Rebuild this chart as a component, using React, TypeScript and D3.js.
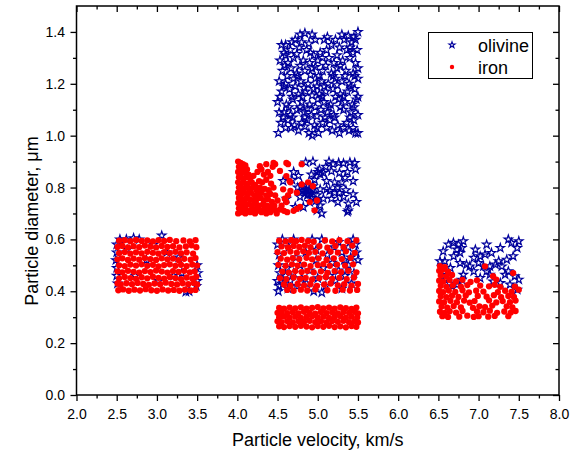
import { useEffect, useRef } from "react";
import * as d3 from "d3";

type Pt = [number, number];

// olivine (blue stars)
const olivineTop: Pt[] = [
  [4.78,1.39],[4.84,1.395],[4.93,1.39],[5.12,1.38],[5.3,1.39],[5.38,1.385],[5.45,1.38],[5.5,1.4],
  [4.55,1.35],[4.6,1.35],[4.72,1.37],[4.8,1.36],[4.97,1.37],[5.08,1.37],[5.22,1.37],[5.33,1.37],[5.42,1.36],[5.47,1.37],
  [4.58,1.32],[4.66,1.33],[4.77,1.34],[4.86,1.33],[4.95,1.31],[5.03,1.32],[5.11,1.33],[5.27,1.34],[5.36,1.33],[5.49,1.33],
  [4.53,1.29],[4.63,1.28],[4.7,1.3],[4.82,1.29],[4.9,1.28],[5.0,1.29],[5.14,1.3],[5.2,1.28],[5.31,1.29],[5.4,1.3],[5.47,1.28],
  [4.56,1.25],[4.67,1.26],[4.74,1.24],[4.84,1.25],[4.93,1.26],[5.06,1.25],[5.17,1.24],[5.24,1.26],[5.35,1.25],[5.44,1.24],
  [4.52,1.21],[4.6,1.2],[4.7,1.22],[4.79,1.21],[4.88,1.2],[4.97,1.22],[5.05,1.21],[5.13,1.2],[5.22,1.22],[5.3,1.21],[5.39,1.2],[5.5,1.22],
  [4.55,1.17],[4.65,1.18],[4.76,1.16],[4.85,1.17],[4.95,1.18],[5.02,1.16],[5.1,1.17],[5.19,1.18],[5.28,1.16],[5.37,1.17],[5.46,1.18],
  [4.5,1.13],[4.61,1.12],[4.69,1.14],[4.8,1.13],[4.9,1.12],[5.0,1.14],[5.08,1.13],[5.16,1.12],[5.26,1.14],[5.34,1.13],[5.43,1.12],[5.48,1.14],
  [4.52,1.09],[4.58,1.09],[4.66,1.08],[4.74,1.1],[4.83,1.09],[4.92,1.08],[5.04,1.1],[5.12,1.09],[5.2,1.08],[5.32,1.1],[5.41,1.09],[5.5,1.08],
  [4.54,1.05],[4.63,1.06],[4.71,1.04],[4.8,1.05],[4.87,1.06],[4.96,1.04],[5.06,1.05],[5.15,1.06],[5.25,1.04],[5.36,1.05],[5.45,1.06],
  [4.51,1.01],[4.6,1.03],[4.76,1.02],[4.89,1.01],[4.93,1.0],[5.01,1.01],[5.18,1.02],[5.27,1.01],[5.39,1.02],[5.47,1.01],[5.5,1.01],
  [4.68,1.36],[4.89,1.355],[5.17,1.35],[5.4,1.34],
  [4.6,1.31],[4.74,1.315],[4.91,1.32],[5.06,1.3],[5.24,1.31],[5.44,1.32],
  [4.59,1.27],[4.78,1.27],[4.97,1.265],[5.1,1.27],[5.28,1.27],[5.5,1.26],
  [4.62,1.23],[4.75,1.23],[4.91,1.235],[5.01,1.23],[5.19,1.23],[5.34,1.23],[5.46,1.23],
  [4.58,1.19],[4.72,1.19],[4.83,1.185],[4.99,1.19],[5.08,1.19],[5.24,1.195],[5.41,1.19],
  [4.53,1.15],[4.68,1.15],[4.81,1.15],[4.93,1.155],[5.05,1.15],[5.22,1.15],[5.32,1.15],[5.5,1.15],
  [4.64,1.11],[4.78,1.11],[4.87,1.105],[4.97,1.11],[5.14,1.11],[5.28,1.11],[5.45,1.11],
  [4.57,1.07],[4.69,1.07],[4.84,1.07],[4.99,1.075],[5.09,1.07],[5.21,1.07],[5.4,1.07],
  [4.67,1.03],[4.84,1.035],[4.99,1.03],[5.11,1.03],[5.32,1.03],[5.44,1.03],
];

const olivineMid: Pt[] = [
  [4.85,0.897],[4.94,0.9],[5.14,0.9],[5.19,0.89],[5.26,0.895],[5.32,0.893],[5.4,0.897],[5.46,0.895],
  [5.02,0.87],[5.03,0.851],[5.07,0.857],[5.17,0.863],[5.27,0.857],[5.34,0.838],[5.11,0.825],[5.21,0.82],
  [5.44,0.825],[5.25,0.8],[5.15,0.787],[4.87,0.805],[4.82,0.787],[4.88,0.774],[4.94,0.793],[4.99,0.77],
  [5.07,0.757],[5.17,0.757],[5.27,0.78],[5.32,0.764],[5.44,0.774],[5.48,0.744],[5.38,0.738],[5.25,0.744],
  [5.03,0.731],[4.99,0.712],[5.38,0.712],[4.61,0.757],[4.57,0.825],[4.76,0.845],[4.72,0.725],[4.82,0.725],
  [4.94,0.805],[5.11,0.793],[5.03,0.793],[5.21,0.78],[4.78,0.764],[4.9,0.744],
  [4.84,0.78],[4.86,0.79],[4.89,0.785],[4.87,0.77],[4.91,0.775],[4.83,0.795],[4.93,0.76],[4.8,0.81],
  [4.96,0.83],[4.92,0.85],[4.7,0.86],[4.68,0.83],[4.75,0.8],[5.0,0.86],[5.3,0.82],[5.37,0.86],
  [5.47,0.87],[5.1,0.88],[4.98,0.75],[5.05,0.7],[5.35,0.79],[5.37,0.706],
];

const olivineBlockA: Pt[] = [
  [2.5,0.58],[2.5,0.55],[2.49,0.52],[2.5,0.49],[2.5,0.46],[2.51,0.43],[2.54,0.6],[2.62,0.6],
  [2.71,0.605],[2.78,0.6],[3.06,0.615],[3.5,0.5],[3.51,0.47],[3.5,0.44],[3.49,0.42],[3.36,0.398],
  [3.4,0.4],[2.63,0.56],[2.87,0.52],[3.02,0.44],[3.21,0.46],[3.31,0.47],[2.73,0.46],[3.12,0.55],
  [2.96,0.58],[3.27,0.53],
];

const olivineBlockB: Pt[] = [
  [4.5,0.58],[4.52,0.54],[4.51,0.5],[4.53,0.47],[4.5,0.44],[4.52,0.42],[4.51,0.4],[4.57,0.43],
  [4.6,0.46],[4.63,0.41],[4.66,0.44],[4.62,0.49],[4.7,0.47],[4.74,0.42],[4.8,0.45],[4.78,0.5],
  [4.86,0.43],[4.9,0.48],[4.95,0.4],[5.05,0.395],[5.0,0.45],[5.07,0.49],[5.1,0.42],[5.15,0.46],
  [5.18,0.51],[5.22,0.44],[5.26,0.48],[5.3,0.41],[5.34,0.46],[5.38,0.5],[5.42,0.43],[5.45,0.47],
  [5.5,0.52],[5.48,0.55],[5.47,0.58],[5.44,0.6],[5.38,0.57],[5.3,0.55],[5.26,0.59],[5.2,0.57],
  [5.12,0.54],[5.05,0.6],[4.98,0.56],[4.93,0.6],[4.85,0.55],[4.7,0.6],[4.64,0.57],[4.56,0.6],
  [5.33,0.52],[5.41,0.53],[4.98,0.52],[4.73,0.53],
];

const olivineRight: Pt[] = [
  [6.625,0.58],[6.687,0.587],[6.75,0.58],[6.81,0.593],[6.79,0.567],[6.73,0.561],[6.77,0.548],[6.69,0.535],
  [6.56,0.554],[6.58,0.516],[6.52,0.516],[6.96,0.561],[7.1,0.58],[7.27,0.567],[7.37,0.6],[7.41,0.587],
  [7.5,0.593],[7.48,0.567],[7.43,0.535],[7.35,0.522],[7.25,0.516],[7.16,0.548],[7.08,0.542],[7.02,0.535],
  [6.94,0.529],[7.0,0.509],[7.06,0.496],[7.14,0.496],[7.21,0.503],[7.29,0.496],[7.37,0.477],[6.89,0.496],
  [6.85,0.503],[6.77,0.509],[6.65,0.49],[6.6,0.464],[6.81,0.464],[6.94,0.477],[7.1,0.477],[7.33,0.464],
  [7.45,0.458],[7.5,0.445],[7.27,0.432],[7.18,0.438],[7.39,0.426],[7.48,0.406],[6.67,0.419],[6.73,0.426],
  [6.58,0.445],[6.79,0.445],[7.02,0.451],[7.14,0.464],
];

// iron (red dots)
const ironBlockA: Pt[] = [
  [2.52,0.404],[2.58,0.407],[2.65,0.402],[2.72,0.406],[2.79,0.403],[2.86,0.408],[2.93,0.404],[3.0,0.402],[3.07,0.407],[3.14,0.403],[3.21,0.405],[3.28,0.402],[3.35,0.406],[3.42,0.403],[3.48,0.405],
  [2.51,0.43],[2.55,0.426],[2.62,0.431],[2.69,0.427],[2.76,0.432],[2.83,0.428],[2.9,0.425],[2.97,0.43],[3.04,0.427],[3.11,0.433],[3.18,0.428],[3.25,0.426],[3.32,0.431],[3.39,0.427],[3.46,0.432],[3.5,0.426],
  [2.53,0.45],[2.6,0.455],[2.67,0.451],[2.74,0.448],[2.81,0.454],[2.88,0.45],[2.95,0.456],[3.02,0.452],[3.09,0.449],[3.16,0.455],[3.23,0.451],[3.3,0.447],[3.37,0.453],[3.44,0.449],[3.49,0.456],
  [2.51,0.477],[2.57,0.473],[2.64,0.479],[2.71,0.475],[2.78,0.472],[2.85,0.478],[2.92,0.474],[2.99,0.48],[3.06,0.476],[3.13,0.472],[3.2,0.478],[3.27,0.475],[3.34,0.479],[3.41,0.473],[3.47,0.477],
  [2.53,0.5],[2.6,0.497],[2.67,0.503],[2.74,0.499],[2.81,0.504],[2.88,0.498],[2.95,0.502],[3.02,0.496],[3.09,0.501],[3.16,0.504],[3.23,0.498],[3.3,0.502],[3.37,0.497],[3.44,0.503],[3.5,0.499],
  [2.51,0.523],[2.57,0.527],[2.64,0.521],[2.71,0.526],[2.78,0.522],[2.85,0.528],[2.92,0.524],[2.99,0.521],[3.06,0.527],[3.13,0.523],[3.2,0.526],[3.27,0.52],[3.34,0.525],[3.42,0.522],[3.48,0.528],
  [2.53,0.547],[2.6,0.551],[2.67,0.545],[2.74,0.55],[2.81,0.546],[2.88,0.552],[2.95,0.548],[3.02,0.545],[3.09,0.551],[3.16,0.547],[3.23,0.552],[3.3,0.546],[3.37,0.55],[3.45,0.545],
  [2.51,0.571],[2.57,0.575],[2.64,0.569],[2.71,0.574],[2.78,0.57],[2.85,0.576],[2.92,0.572],[2.99,0.569],[3.06,0.575],[3.13,0.571],[3.2,0.574],[3.28,0.569],[3.36,0.573],[3.43,0.577],[3.49,0.57],
  [2.53,0.595],[2.6,0.597],[2.67,0.593],[2.74,0.598],[2.81,0.594],[2.88,0.596],[2.95,0.592],[3.02,0.597],[3.09,0.594],[3.16,0.598],[3.24,0.593],[3.33,0.596],[3.41,0.592],[3.48,0.597],
];

const ironMid: Pt[] = [
  [4.01,0.9],[4.04,0.895],[4.07,0.89],[4.02,0.88],[4.06,0.875],[4.1,0.885],[4.12,0.87],[4.01,0.86],[4.05,0.855],[4.09,0.86],[4.14,0.85],
  [4.02,0.84],[4.07,0.835],[4.11,0.84],[4.16,0.835],[4.2,0.845],[4.25,0.86],[4.3,0.87],[4.33,0.85],[4.38,0.86],[4.41,0.845],[4.44,0.88],
  [4.01,0.82],[4.04,0.815],[4.08,0.82],[4.13,0.815],[4.18,0.82],[4.22,0.81],[4.27,0.825],[4.31,0.82],[4.36,0.83],[4.42,0.815],
  [4.02,0.8],[4.06,0.795],[4.1,0.8],[4.15,0.795],[4.19,0.8],[4.24,0.79],[4.28,0.8],[4.34,0.795],[4.39,0.79],[4.45,0.8],
  [4.01,0.78],[4.05,0.775],[4.09,0.78],[4.13,0.775],[4.17,0.78],[4.21,0.77],[4.26,0.775],[4.3,0.78],[4.36,0.77],[4.41,0.775],[4.47,0.77],
  [4.02,0.76],[4.06,0.755],[4.11,0.76],[4.15,0.755],[4.2,0.75],[4.24,0.755],[4.29,0.76],[4.33,0.75],[4.38,0.755],[4.43,0.745],[4.5,0.75],
  [4.01,0.74],[4.05,0.735],[4.09,0.74],[4.14,0.735],[4.18,0.73],[4.23,0.74],[4.27,0.73],[4.32,0.735],[4.37,0.73],[4.42,0.725],[4.46,0.73],[4.55,0.73],
  [4.02,0.72],[4.06,0.715],[4.1,0.72],[4.15,0.71],[4.19,0.715],[4.24,0.72],[4.28,0.71],[4.33,0.715],[4.38,0.71],[4.43,0.715],[4.48,0.71],[4.53,0.715],[4.58,0.71],
  [4.01,0.7],[4.05,0.705],[4.1,0.7],[4.16,0.705],[4.22,0.7],[4.3,0.705],[4.36,0.7],[4.41,0.705],[4.49,0.7],[4.62,0.705],[4.7,0.71],
  [4.61,0.844],[4.65,0.825],[4.66,0.787],[4.63,0.77],[4.59,0.757],[4.8,0.812],[4.88,0.82],[4.94,0.805],
  [4.9,0.744],[4.96,0.712],[4.78,0.725],[4.74,0.718],[4.8,0.89],[4.63,0.89],[4.47,0.89],[4.53,0.864],
  [4.74,0.78],[4.66,0.82],[4.99,0.75],[4.57,0.793],[4.61,0.744],[4.28,0.882],[4.36,0.89],[4.45,0.895],[4.61,0.895],
];

const ironBlockB: Pt[] = [
  [4.52,0.595],[4.6,0.592],[4.67,0.597],[4.73,0.593],[4.8,0.598],[4.88,0.594],[4.95,0.591],[5.09,0.596],[5.18,0.592],[5.27,0.597],[5.37,0.593],[5.48,0.596],
  [4.55,0.573],[4.63,0.569],[4.7,0.575],[4.77,0.571],[4.84,0.576],[4.91,0.57],[5.02,0.574],[5.12,0.568],[5.22,0.575],[5.32,0.571],[5.43,0.576],
  [4.5,0.551],[4.58,0.547],[4.66,0.553],[4.74,0.549],[4.82,0.554],[4.89,0.548],[4.97,0.552],[5.06,0.546],[5.16,0.553],[5.25,0.549],[5.35,0.554],[5.46,0.548],
  [4.54,0.526],[4.62,0.522],[4.69,0.528],[4.77,0.524],[4.86,0.529],[4.93,0.523],[5.01,0.527],[5.11,0.521],[5.2,0.527],[5.3,0.524],[5.41,0.529],
  [4.51,0.502],[4.6,0.498],[4.68,0.504],[4.75,0.499],[4.83,0.503],[4.91,0.497],[5.0,0.501],[5.07,0.505],[5.15,0.498],[5.24,0.503],[5.34,0.499],[5.44,0.504],
  [4.56,0.476],[4.64,0.472],[4.72,0.478],[4.8,0.474],[4.87,0.479],[4.95,0.473],[5.04,0.477],[5.12,0.471],[5.21,0.478],[5.29,0.474],[5.38,0.479],[5.48,0.473],
  [4.53,0.451],[4.61,0.447],[4.7,0.453],[4.78,0.448],[4.85,0.452],[4.93,0.446],[5.02,0.451],[5.1,0.455],[5.18,0.448],[5.27,0.452],[5.36,0.447],[5.45,0.453],
  [4.58,0.426],[4.66,0.422],[4.75,0.428],[4.83,0.423],[4.91,0.427],[4.99,0.421],[5.08,0.426],[5.16,0.43],[5.25,0.423],[5.33,0.427],[5.42,0.422],[5.5,0.428],
  [4.62,0.405],[4.7,0.402],[4.79,0.406],[4.87,0.403],[4.97,0.407],[5.12,0.404],[5.22,0.402],[5.31,0.406],[5.4,0.403],[5.49,0.405],
];

const ironBlockC: Pt[] = [
  [4.52,0.336],[4.58,0.333],[4.65,0.337],[4.72,0.334],[4.79,0.338],[4.86,0.333],[4.93,0.336],[5.0,0.339],[5.07,0.334],[5.14,0.337],[5.21,0.333],[5.28,0.338],[5.35,0.335],[5.42,0.332],[5.48,0.337],
  [4.5,0.317],[4.55,0.32],[4.62,0.316],[4.69,0.319],[4.76,0.315],[4.83,0.321],[4.9,0.317],[4.97,0.314],[5.04,0.32],[5.11,0.316],[5.18,0.319],[5.25,0.315],[5.32,0.32],[5.39,0.317],[5.46,0.321],[5.5,0.315],
  [4.52,0.3],[4.58,0.303],[4.65,0.298],[4.72,0.302],[4.79,0.297],[4.86,0.301],[4.93,0.304],[5.0,0.299],[5.07,0.302],[5.14,0.297],[5.21,0.301],[5.28,0.304],[5.35,0.298],[5.42,0.302],[5.49,0.299],
  [4.5,0.284],[4.55,0.281],[4.62,0.285],[4.69,0.28],[4.76,0.284],[4.83,0.282],[4.9,0.286],[4.97,0.281],[5.04,0.284],[5.11,0.28],[5.18,0.285],[5.25,0.282],[5.32,0.286],[5.39,0.281],[5.46,0.284],[5.5,0.28],
  [4.52,0.265],[4.58,0.262],[4.65,0.266],[4.72,0.263],[4.79,0.267],[4.86,0.264],[4.93,0.261],[5.0,0.266],[5.07,0.263],[5.14,0.267],[5.21,0.262],[5.28,0.265],[5.35,0.261],[5.42,0.266],[5.48,0.263],
];

const ironRight: Pt[] = [
  [6.52,0.497],[6.58,0.493],[7.08,0.496],
  [6.51,0.479],[6.55,0.483],[6.62,0.476],[7.43,0.47],
  [6.53,0.461],[6.6,0.457],[6.67,0.463],[7.18,0.458],
  [6.51,0.441],[6.56,0.437],[6.64,0.443],[6.72,0.438],[6.8,0.444],[6.9,0.436],[6.98,0.442],[7.22,0.445],
  [6.53,0.421],[6.6,0.417],[6.68,0.423],[6.78,0.418],[6.86,0.424],[7.02,0.422],[7.13,0.419],[7.2,0.425],[7.27,0.417],[7.45,0.418],
  [6.51,0.401],[6.56,0.397],[6.63,0.403],[6.71,0.398],[6.8,0.404],[6.88,0.396],[6.97,0.402],[7.06,0.399],[7.24,0.397],[7.33,0.402],[7.41,0.398],[7.5,0.406],
  [6.53,0.381],[6.6,0.377],[6.67,0.383],[6.75,0.378],[6.84,0.384],[6.99,0.382],[7.1,0.379],[7.19,0.385],[7.28,0.377],[7.37,0.382],[7.44,0.378],
  [6.51,0.361],[6.57,0.357],[6.65,0.363],[6.73,0.358],[6.82,0.364],[6.89,0.356],[6.95,0.362],[7.13,0.365],[7.22,0.357],[7.3,0.362],[7.39,0.358],[7.46,0.364],
  [6.54,0.341],[6.61,0.337],[6.69,0.343],[6.78,0.338],[6.93,0.336],[7.01,0.342],[7.08,0.339],[7.17,0.345],[7.35,0.342],[7.42,0.338],
  [6.52,0.321],[6.58,0.317],[6.64,0.323],[6.72,0.318],[6.8,0.324],[6.98,0.322],[7.06,0.319],[7.14,0.325],[7.23,0.317],[7.32,0.322],[7.4,0.318],[7.46,0.324],
  [6.55,0.304],[6.62,0.301],[6.76,0.302],[6.86,0.306],[6.94,0.301],[7.0,0.304],[7.12,0.302],[7.2,0.305],[7.37,0.304],
];

const olivine: Pt[] = [...olivineBlockA, ...olivineBlockB, ...olivineMid, ...olivineTop, ...olivineRight];
const iron: Pt[] = [...ironBlockA, ...ironMid, ...ironBlockB, ...ironBlockC, ...ironRight];

const xTicks = [2.0, 2.5, 3.0, 3.5, 4.0, 4.5, 5.0, 5.5, 6.0, 6.5, 7.0, 7.5, 8.0];
const xMinor = [2.25, 2.75, 3.25, 3.75, 4.25, 4.75, 5.25, 5.75, 6.25, 6.75, 7.25, 7.75];
const yTicks = [0.0, 0.2, 0.4, 0.6, 0.8, 1.0, 1.2, 1.4];
const yMinor = [0.1, 0.3, 0.5, 0.7, 0.9, 1.1, 1.3];

const W = 576;
const H = 454;
const box = { left: 76.5, right: 559, top: 6, bottom: 395 };
const font = "'Liberation Sans', Arial, sans-serif";
const BLUE = "#00009c";
const RED = "#ff0000";

export default function App() {
  const ref = useRef<SVGSVGElement>(null);

  useEffect(() => {
    const svg = d3.select(ref.current);
    svg.selectAll("*").remove();

    const x = d3.scaleLinear().domain([2, 8]).range([box.left, box.right]);
    const y = d3.scaleLinear().domain([0, 1.5]).range([box.bottom, box.top]);

    const noText = () => "";
    const styleAxis = (g: any) => {
      g.select(".domain").remove();
      g.selectAll("line").attr("stroke", "#000").attr("stroke-width", 1.3);
      g.selectAll("text").attr("font-family", font).attr("font-size", 14).attr("fill", "#000");
    };

    // bottom
    svg.append("g").attr("transform", `translate(0,${box.bottom})`)
      .call(d3.axisBottom(x).tickValues(xTicks).tickSize(6).tickPadding(8).tickFormat(d3.format(".1f")))
      .call(styleAxis);
    svg.append("g").attr("transform", `translate(0,${box.bottom})`)
      .call(d3.axisBottom(x).tickValues(xMinor).tickSize(3.5).tickFormat(noText))
      .call(styleAxis);
    // top
    svg.append("g").attr("transform", `translate(0,${box.top})`)
      .call(d3.axisTop(x).tickValues(xTicks).tickSize(-6).tickFormat(noText))
      .call(styleAxis);
    svg.append("g").attr("transform", `translate(0,${box.top})`)
      .call(d3.axisTop(x).tickValues(xMinor).tickSize(-3.5).tickFormat(noText))
      .call(styleAxis);
    // left
    svg.append("g").attr("transform", `translate(${box.left},0)`)
      .call(d3.axisLeft(y).tickValues(yTicks).tickSize(6).tickPadding(5.5).tickFormat(d3.format(".1f")))
      .call(styleAxis);
    svg.append("g").attr("transform", `translate(${box.left},0)`)
      .call(d3.axisLeft(y).tickValues(yMinor).tickSize(3.5).tickFormat(noText))
      .call(styleAxis);
    // right
    svg.append("g").attr("transform", `translate(${box.right},0)`)
      .call(d3.axisRight(y).tickValues(yTicks).tickSize(-6).tickFormat(noText))
      .call(styleAxis);
    svg.append("g").attr("transform", `translate(${box.right},0)`)
      .call(d3.axisRight(y).tickValues(yMinor).tickSize(-3.5).tickFormat(noText))
      .call(styleAxis);

    svg.append("rect")
      .attr("x", box.left).attr("y", box.top)
      .attr("width", box.right - box.left).attr("height", box.bottom - box.top)
      .attr("fill", "none").attr("stroke", "#000").attr("stroke-width", 1.5);

    // points
    const star = d3.symbol().type(d3.symbolStar).size(22)();
    svg.append("g").selectAll("path").data(olivine).join("path")
      .attr("d", star)
      .attr("transform", (d) => `translate(${x(d[0])},${y(d[1])})`)
      .attr("fill", "none").attr("stroke", BLUE).attr("stroke-width", 1.2);

    svg.append("g").selectAll("circle").data(iron).join("circle")
      .attr("cx", (d) => x(d[0])).attr("cy", (d) => y(d[1])).attr("r", 3.15)
      .attr("fill", RED);

    // axis titles
    svg.append("text")
      .attr("x", (box.left + box.right) / 2).attr("y", 446)
      .attr("text-anchor", "middle").attr("font-family", font).attr("font-size", 18)
      .text("Particle velocity, km/s");
    svg.append("text")
      .attr("transform", "translate(37.5,221) rotate(-90)")
      .attr("text-anchor", "middle").attr("font-family", font).attr("font-size", 18)
      .text("Particle diameter, μm");

    // legend
    const lg = svg.append("g");
    lg.append("rect").attr("x", 428.5).attr("y", 32.5).attr("width", 104).attr("height", 46)
      .attr("fill", "#fff").attr("stroke", "#000").attr("stroke-width", 1);
    lg.append("path").attr("d", d3.symbol().type(d3.symbolStar).size(12)())
      .attr("transform", "translate(452,45)")
      .attr("fill", "none").attr("stroke", BLUE).attr("stroke-width", 1.1);
    lg.append("circle").attr("cx", 452).attr("cy", 67).attr("r", 2.2).attr("fill", RED);
    lg.append("text").attr("x", 478).attr("y", 52).attr("font-family", font).attr("font-size", 18).text("olivine");
    lg.append("text").attr("x", 478).attr("y", 74).attr("font-family", font).attr("font-size", 18).text("iron");
  }, []);

  return (
    <svg
      ref={ref}
      width={W}
      height={H}
      style={{ position: "absolute", left: 0, top: 0, background: "#fff" }}
    />
  );
}
